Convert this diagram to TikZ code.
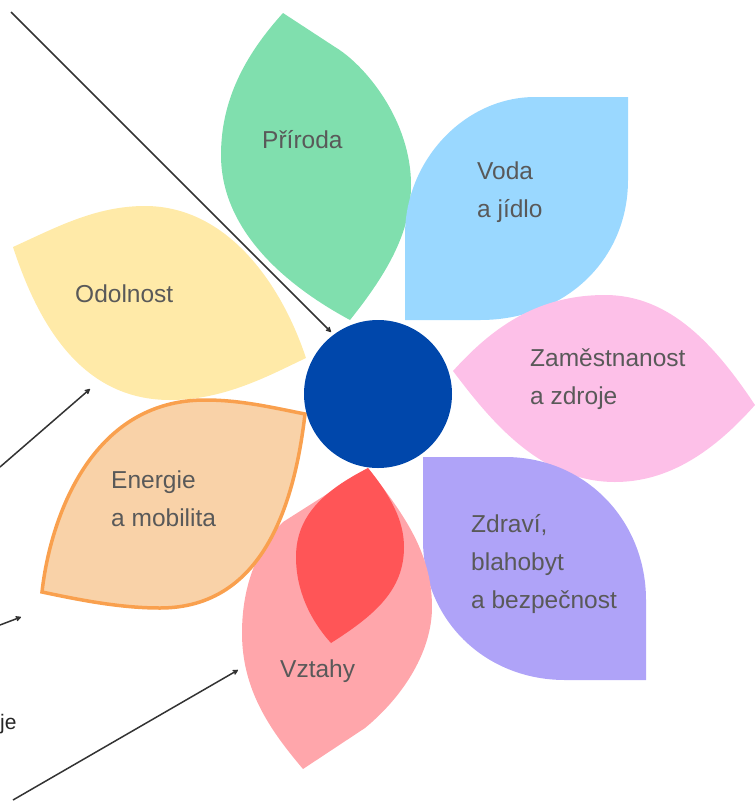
\documentclass[tikz,border=0pt]{standalone}
\usepackage{fontspec}
\setmainfont{Liberation Sans}
\usetikzlibrary{arrows.meta}
\tikzset{
  petal/.style={draw=none},
  lab/.style={font=\fontsize{24.5}{38}\selectfont, text=black!65, align=left, anchor=west, inner sep=0pt},
  pointer/.style={draw=black!80, line width=1.5pt, -{Stealth[length=7pt,width=7pt,round]}},
}
\definecolor{cGreen}{HTML}{80DFAE}
\definecolor{cBlue}{HTML}{9AD8FF}
\definecolor{cPink}{HTML}{FDC0E8}
\definecolor{cViolet}{HTML}{AFA3F8}
\definecolor{cRose}{HTML}{FFA6AB}
\definecolor{cRed}{HTML}{FF5557}
\definecolor{cPeach}{HTML}{F9D2A8}
\definecolor{cOrange}{HTML}{F9A04E}
\definecolor{cYellow}{HTML}{FFEAA8}
\definecolor{cCentre}{HTML}{0047AB}
\begin{document}
\begin{tikzpicture}[x=1pt,y=-1pt]
\useasboundingbox (0,0) rectangle (755,801);
% petals
\fill[cGreen,petal] (283,13) .. controls (245,55) and (221,100) .. (221,155) .. controls (221,230) and (285,285) .. (350,320) .. controls (390,270) and (411,230) .. (411,185) .. controls (411,120) and (365,65) .. (335,47) -- cycle;
\fill[cBlue,petal] (405,320) -- (405,235) .. controls (405,160) and (465,97) .. (535,97) -- (628,97) -- (628,180) .. controls (628,260) and (565,320) .. (480,320) -- cycle;
\fill[cPink,petal] (453,371) .. controls (490,330) and (535,295) .. (605,295) .. controls (670,295) and (715,345) .. (755,405) .. controls (715,450) and (670,482) .. (615,482) .. controls (540,482) and (490,420) .. (453,371) -- cycle;
\fill[cViolet,petal] (423,457) -- (505,457) .. controls (585,457) and (646,520) .. (646,600) -- (646,680) -- (565,680) .. controls (485,680) and (423,620) .. (423,540) -- cycle;
\fill[cRose,petal] (368,468) .. controls (400,510) and (432,550) .. (432,607) .. controls (432,650) and (405,695) .. (365,728) -- (303,769) .. controls (270,730) and (242,690) .. (242,633) .. controls (242,590) and (255,550) .. (283,522) -- cycle;
\fill[cRed,petal] (368,468) .. controls (390,495) and (404,520) .. (404,547) .. controls (404,590) and (375,615) .. (331,643) .. controls (310,620) and (296,590) .. (296,557) .. controls (296,515) and (325,490) .. (368,468) -- cycle;
\fill[cYellow,petal] (13,247) .. controls (55,228) and (95,206) .. (145,206) .. controls (225,206) and (280,280) .. (306,358) .. controls (270,375) and (225,400) .. (170,400) .. controls (85,400) and (40,330) .. (13,247) -- cycle;
\filldraw[fill=cPeach,draw=cOrange,line width=3.5pt,line join=miter] (42,592) .. controls (50,520) and (90,400) .. (205,400) .. controls (240,400) and (270,407) .. (305,414) .. controls (295,500) and (265,608) .. (160,608) .. controls (120,608) and (80,600) .. (42,592) -- cycle;
% centre
\node[circle,fill=cCentre,minimum size=148pt,inner sep=0pt] (centre) at (378,394) {};
% labels
\node[lab] (priroda) at (262,140) {Příroda};
\node[lab] (voda) at (477,192) {Voda\\a jídlo};
\node[lab] (zam) at (530,379) {Zaměstnanost\\a zdroje};
\node[lab] (zdravi) at (471,564) {Zdraví,\\blahobyt\\a bezpečnost};
\node[lab] (vztahy) at (280,671) {Vztahy};
\node[lab] (energie) at (111,499) {Energie\\a mobilita};
\node[lab] (odolnost) at (75,294) {Odolnost};
\node[font=\fontsize{21}{26}\selectfont,text=black!85,inner sep=0pt,anchor=west] (je) at (0,724) {je};
% pointers
\coordinate (a1s) at (11,12); \coordinate (a1e) at (331,332);
\coordinate (a2s) at (0,467); \coordinate (a2e) at (90,389);
\coordinate (a3s) at (0,625); \coordinate (a3e) at (21,617);
\coordinate (a4s) at (13,800); \coordinate (a4e) at (238,670);
\draw[pointer] (a1s) -- (a1e);
\draw[pointer] (a2s) -- (a2e);
\draw[pointer] (a3s) -- (a3e);
\draw[pointer] (a4s) -- (a4e);
\end{tikzpicture}
\end{document}
